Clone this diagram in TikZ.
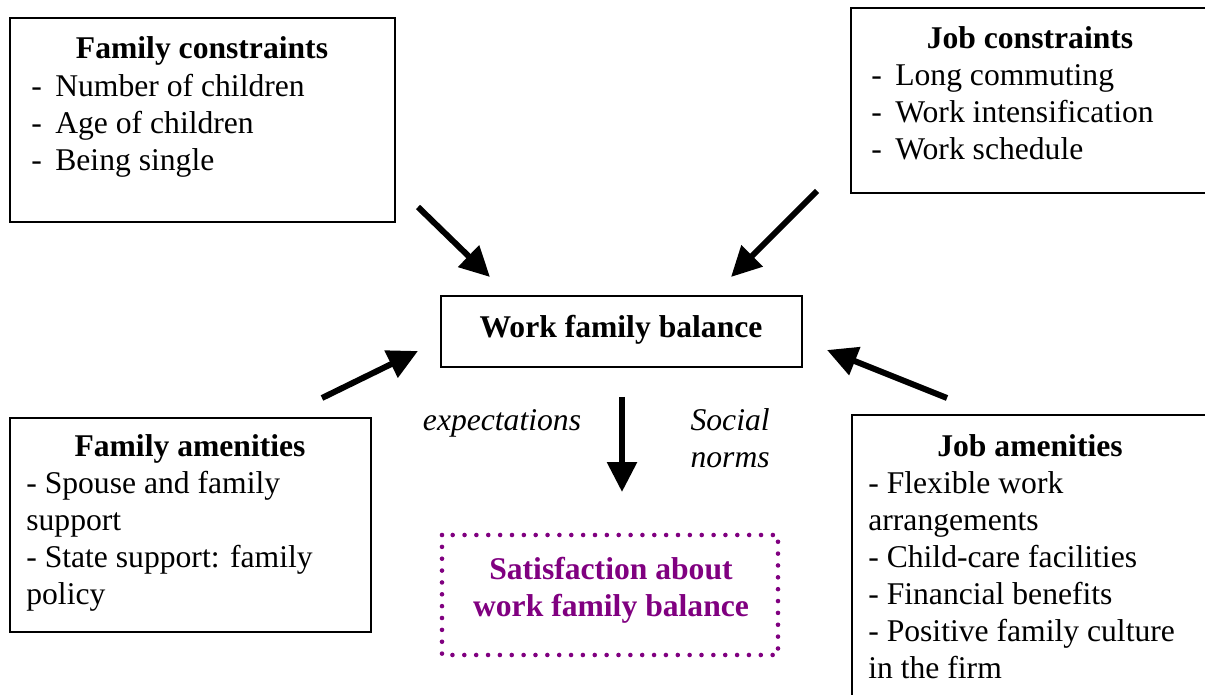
\documentclass[tikz,border=0pt]{standalone}
\usepackage{fontspec}
\setmainfont{Liberation Serif}
\usetikzlibrary{arrows.meta}
\definecolor{satpurple}{HTML}{800080}

\begin{document}
\begin{tikzpicture}[x=0.02cm, y=-0.02cm,
    box/.style={draw, line width=1.1pt},
    txt/.style={inner sep=0pt, font=\fontsize{18}{21}\selectfont},
    head/.style={txt, anchor=base, font=\fontsize{18}{21}\selectfont\bfseries},
    note/.style={txt, anchor=base, font=\fontsize{18}{21}\selectfont\itshape},
    item/.style={txt, anchor=base west},
    arr/.style={line width=3.4pt, -{Triangle[length=0.6cm, width=0.58cm]}}]
    \useasboundingbox (0,0) rectangle (1205,695);
    \clip (0,0) rectangle (1205,695);

    % Boxes
    \draw[box] (10,18) rectangle (395,222);
    \draw[box] (851,8) rectangle (1212,193);
    \draw[box] (441,296) rectangle (802,367);
    \draw[box] (10,418) rectangle (371,632);
    \draw[box] (852,415) rectangle (1212,710);
    \draw[satpurple, line width=2.6pt, line cap=round, dash pattern=on 0pt off 6.75pt]
        (442,535) rectangle (778,655);

    % Family constraints
    \node[head] (famcon) at (202,59) {Family constraints};
    \foreach \txt [count=\i] in {Number of children, Age of children, Being single}
        \node[item] (famcon-\i) at (31,60+37*\i) {\makebox[0.48cm][l]{-}\txt};

    % Job constraints
    \node[head] (jobcon) at (1030,49) {Job constraints};
    \foreach \txt [count=\i] in {Long commuting, Work intensification, Work schedule}
        \node[item] (jobcon-\i) at (871,49+37*\i) {\makebox[0.48cm][l]{-}\txt};

    % Work family balance
    \node[head] (wfb) at (621,338) {Work family balance};

    % Family amenities
    \node[head] (famam) at (190,457) {Family amenities};
    \foreach \txt [count=\i] in {- Spouse and family, support, - State support: family, policy}
        \node[item] (famam-\i) at (26,457+37*\i) {\txt};

    % Job amenities
    \node[head] (jobam) at (1030,457) {Job amenities};
    \foreach \txt [count=\i] in {- Flexible work, arrangements, - Child-care facilities,
        - Financial benefits, - Positive family culture, in the firm}
        \node[item] (jobam-\i) at (868,457+37*\i) {\txt};

    % Satisfaction
    \node[head, text=satpurple] (sat-1) at (611,580) {Satisfaction about};
    \node[head, text=satpurple] (sat-2) at (611,617) {work family balance};

    % Labels on the down arrow
    \node[note] (expect) at (502,431) {expectations};
    \node[note, anchor=base east] (social) at (770,431) {Social};
    \node[note, anchor=base east] (norms) at (770,468) {norms};

    % Arrow ends
    \coordinate (famcon-tail) at (418,207);
    \coordinate (famcon-tip) at (490,277);
    \coordinate (jobcon-tail) at (817,191);
    \coordinate (jobcon-tip) at (731,277);
    \coordinate (famam-tail) at (322,398);
    \coordinate (famam-tip) at (418,351);
    \coordinate (jobam-tail) at (947,398);
    \coordinate (jobam-tip) at (827,350);
    \coordinate (wfb-tail) at (622,397);
    \coordinate (sat-tip) at (622,492);

    % Arrows
    \draw[arr] (famcon-tail) -- (famcon-tip);
    \draw[arr] (jobcon-tail) -- (jobcon-tip);
    \draw[arr] (famam-tail) -- (famam-tip);
    \draw[arr] (jobam-tail) -- (jobam-tip);
    \draw[arr] (wfb-tail) -- (sat-tip);
\end{tikzpicture}
\end{document}
